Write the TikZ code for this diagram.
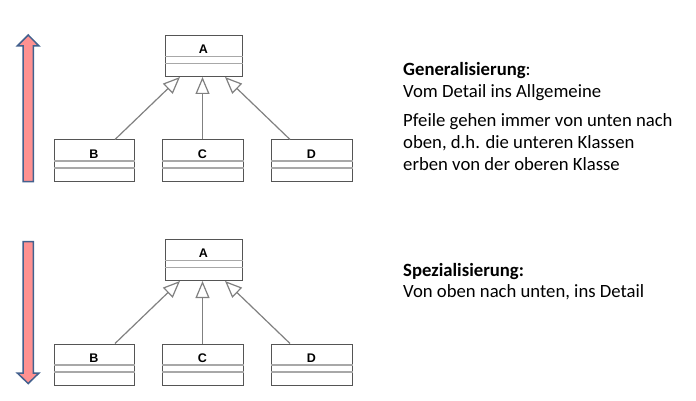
\documentclass[tikz,border=0pt]{standalone}
\usepackage{fontspec}
\setmainfont{Carlito}
\newfontfamily\klassenschrift{Liberation Sans}
\usetikzlibrary{arrows.meta,positioning}

\definecolor{boxrand}{HTML}{555555}
\definecolor{trennlinie}{HTML}{A8A8A8}
\definecolor{pfeilgrau}{HTML}{808080}
\definecolor{pfeilrand}{HTML}{43618E}
\definecolor{pfeilrot}{HTML}{FF9191}

\tikzset{
  klasse/.style={draw=boxrand, line width=1pt, fill=white, minimum height=41pt, inner sep=0pt},
  klname/.style={anchor=base, font=\klassenschrift\bfseries\fontsize{12.5}{14}\selectfont, inner sep=0pt},
  trenner/.style={draw=trennlinie, line width=1.6pt},
  erbt/.style={draw=pfeilgrau, line width=1.2pt, -{Triangle[open, length=17pt, width=14pt, line width=1.2pt]}},
  dickpfeil/.style={draw=pfeilrand, fill=pfeilrot, line width=1.5pt},
  erklaerung/.style={anchor=base west, inner sep=0pt, align=left, font=\fontsize{18.7}{22}\selectfont}
}

%% name, label, x, y, width
\newcommand{\klasse}[5]{%
  \node[klasse, minimum width=#5pt] (#1) at (#3,#4) {};
  \node[klname] at ([yshift=-18.5pt]#1.north) {#2};
  \draw[trenner] ([yshift=-21.5pt]#1.north west) -- ([yshift=-21.5pt]#1.north east);
  \draw[trenner] ([yshift=-28.5pt]#1.north west) -- ([yshift=-28.5pt]#1.north east);
}

\begin{document}
\begin{tikzpicture}[x=1pt, y=-1pt]
  \useasboundingbox (0,0) rectangle (696,401);

  %% Generalisierung
  \draw[dickpfeil] (23,181.7) -- (23,46) -- (17.3,46) -- (28.2,35) -- (39,46) -- (33.3,46) -- (33.3,181.7) -- cycle;
  \klasse{gA}{A}{203.5}{56}{77}
  \klasse{gB}{B}{94}{160.5}{80}
  \klasse{gC}{C}{202.5}{160.5}{81}
  \klasse{gD}{D}{311.5}{160.5}{81}
  \draw[erbt] ([xshift=21pt]gB.north) -- ([xshift=-23.5pt]gA.south);
  \draw[erbt] (gC.north) -- (gC.north |- gA.south);
  \draw[erbt] ([xshift=-21.5pt]gD.north) -- ([xshift=21.5pt]gA.south);
  \node[erklaerung] (gtitel) at (403,76) {\textbf{Generalisierung}:};
  \node[erklaerung] (gtext) at (403,97.7) {Vom Detail ins Allgemeine};
  %% base of a multi-line node is its last line
  \node[erklaerung] (gpfeile) at (403,171) {Pfeile gehen immer von unten nach\\oben, d.h. die unteren Klassen\\erben von der oberen Klasse};

  %% Spezialisierung
  \draw[dickpfeil] (23,241.7) -- (23,373) -- (17.3,373) -- (28.2,383.5) -- (39,373) -- (33.3,373) -- (33.3,241.7) -- cycle;
  \begin{scope}[shift={(0,204)}]
    \klasse{sA}{A}{203.5}{56}{77}
    \klasse{sB}{B}{94}{160.5}{80}
    \klasse{sC}{C}{202.5}{160.5}{81}
    \klasse{sD}{D}{311.5}{160.5}{81}
    \draw[erbt] ([xshift=21pt]sB.north) -- ([xshift=-23.5pt]sA.south);
    \draw[erbt] (sC.north) -- (sC.north |- sA.south);
    \draw[erbt] ([xshift=-21.5pt]sD.north) -- ([xshift=21.5pt]sA.south);
  \end{scope}
  \node[erklaerung] (stitel) at (403,276) {\textbf{Spezialisierung:}};
  \node[erklaerung] (stext) at (403,297.7) {Von oben nach unten, ins Detail};
\end{tikzpicture}
\end{document}
